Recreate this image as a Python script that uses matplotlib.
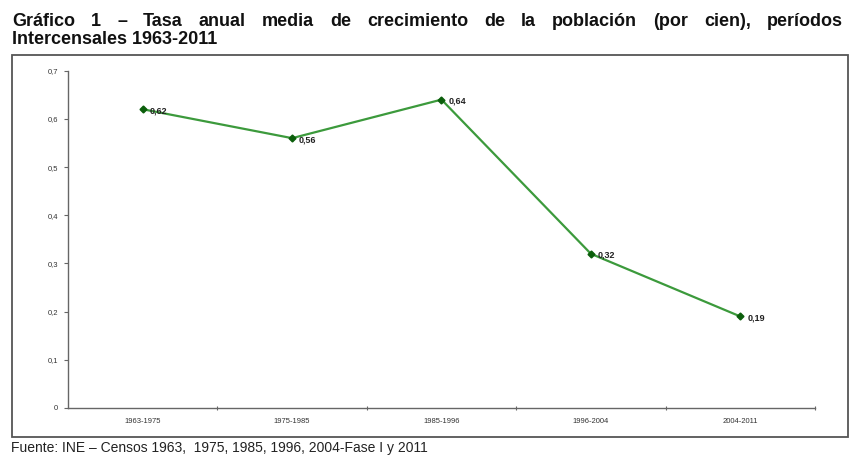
import matplotlib
matplotlib.use("Agg")
import matplotlib.pyplot as plt
from matplotlib.patches import Rectangle

periodos = ["1963-1975", "1975-1985", "1985-1996", "1996-2004", "2004-2011"]
tasas = [0.62, 0.56, 0.64, 0.32, 0.19]
y_ticks = [0, 0.1, 0.2, 0.3, 0.4, 0.5, 0.6, 0.7]

titulo_1 = "Gráfico 1 – Tasa anual media de crecimiento de la población (por cien), períodos"
titulo_2 = "Intercensales 1963-2011"
fuente = "Fuente: INE – Censos 1963,  1975, 1985, 1996, 2004-Fase I y 2011"

plt.rcParams["font.family"] = ["Liberation Sans", "DejaVu Sans"]

W, H = 850, 455
fig = plt.figure(figsize=(W / 100, H / 100), dpi=100)

# outer chart frame (Excel-style border)
fig.patches.append(Rectangle((12 / W, 1 - 437 / H), (848 - 12) / W, (437 - 55) / H,
                             transform=fig.transFigure, fill=False,
                             edgecolor="#555555", linewidth=1.3))

ax = fig.add_axes([68 / W, 1 - 408 / H, (815 - 68) / W, (408 - 70.7) / H])
x = list(range(len(periodos)))
ax.plot(x, tasas, color="#3c9a3c", lw=1.6, marker="D", ms=3.5,
        mfc="#0b5e0b", mec="#0b5e0b", zorder=3)
for xi, v in zip(x, tasas):
    ax.annotate(f"{v:.2f}".replace(".", ","), (xi, v), xytext=(5, -1),
                textcoords="offset points", ha="left", va="center",
                fontsize=6.5, fontweight="bold", color="#222222")

ax.set_xlim(-0.5, len(periodos) - 0.5)
ax.set_ylim(0, 0.7)
ax.set_yticks(y_ticks)
ax.set_yticklabels([("%g" % t).replace(".", ",") for t in y_ticks],
                   fontsize=5.5, color="#333333")
ax.set_xticks(x)
ax.set_xticklabels(periodos, fontsize=5.5, color="#333333")
ax.set_xticks([i + 0.5 for i in x], minor=True)
ax.tick_params(axis="x", which="major", length=0, pad=7)
ax.tick_params(axis="x", which="minor", length=3, direction="inout",
               color="#666666", width=0.8)
ax.tick_params(axis="y", length=3, direction="out", color="#666666",
               width=0.8, pad=4)
for s in ["top", "right"]:
    ax.spines[s].set_visible(False)
for s in ["left", "bottom"]:
    ax.spines[s].set_color("#666666")
    ax.spines[s].set_linewidth(1.0)

# first title line is justified across the frame width
renderer = fig.canvas.get_renderer()
words = titulo_1.split(" ")
tkw = dict(fontsize=13, fontweight="bold", ha="left", va="center", color="#111111")
texts = [fig.text(0, 1 - 22 / H, w, **tkw) for w in words]
widths = [t.get_window_extent(renderer).width for t in texts]
x0, x1 = 12, 843
gap = (x1 - x0 - sum(widths)) / (len(words) - 1)
pos = x0
for t, w in zip(texts, widths):
    t.set_x(pos / W)
    pos += w + gap

fig.text(12 / W, 1 - 40 / H, titulo_2, **tkw)
fig.text(11 / W, 1 - 448 / H, fuente, fontsize=10, ha="left", va="center",
         color="#222222")

fig.savefig("out.png", dpi=100)
